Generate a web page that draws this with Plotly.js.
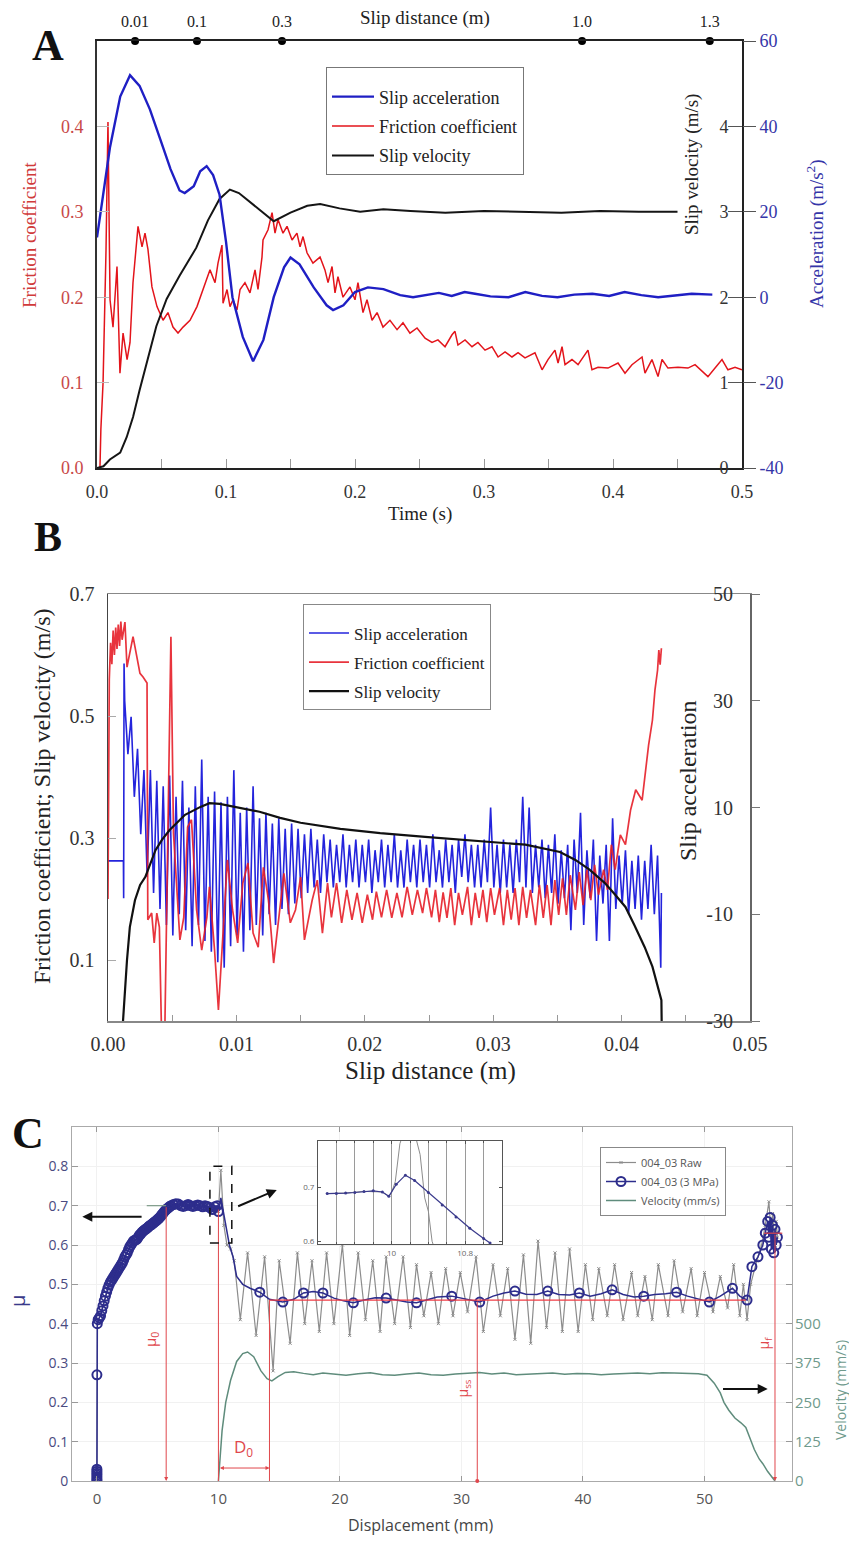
<!DOCTYPE html>
<html><head><meta charset="utf-8">
<script src="https://cdn.plot.ly/plotly-3.0.1.min.js"></script>
<style>html,body{margin:0;padding:0;background:#fff}#chart{width:849px;height:1542px}</style>
</head><body><div id="chart"></div>
<script>
// ---------------- Panel A (time domain) ----------------
const accelA = [[0,14],[0.003,20],[0.01,35],[0.018,47],[0.0256,52],[0.033,49.5],[0.041,44],[0.049,37],[0.057,30],[0.064,25],[0.068,24.4],[0.075,26],[0.08,29.5],[0.085,30.7],[0.09,28.6],[0.095,24],[0.1,13],[0.105,0],[0.113,-9.3],[0.121,-15],[0.129,-10],[0.137,0],[0.145,7],[0.15,9.3],[0.157,7.7],[0.168,2.3],[0.178,-1.9],[0.183,-3],[0.191,-1.9],[0.2,1.2],[0.21,2.3],[0.222,1.9],[0.235,0.5],[0.245,0],[0.254,0.4],[0.265,1.0],[0.275,0.3],[0.285,1.2],[0.293,0.8],[0.305,0.2],[0.319,0],[0.332,1.2],[0.345,0.3],[0.357,0],[0.37,0.6],[0.384,0.8],[0.397,0.3],[0.409,1.2],[0.422,0.5],[0.435,0],[0.448,0.4],[0.461,0.8],[0.477,0.6]];
const velocityA = [[0,0],[0.005,0.02],[0.01,0.1],[0.018,0.18],[0.023,0.36],[0.028,0.6],[0.033,0.91],[0.039,1.27],[0.046,1.66],[0.054,1.98],[0.064,2.25],[0.077,2.58],[0.086,2.9],[0.095,3.15],[0.103,3.26],[0.11,3.22],[0.118,3.12],[0.126,3.02],[0.137,2.89],[0.15,2.99],[0.163,3.07],[0.173,3.09],[0.188,3.04],[0.204,3.0],[0.222,3.03],[0.243,3.01],[0.27,2.99],[0.3,3.01],[0.33,3.0],[0.36,2.99],[0.39,3.01],[0.42,3.0],[0.45,3.0]];
const frictionA = [[0,0],[0.0023,0],[0.003,0.045],[0.0047,0.10],[0.007,0.256],[0.0085,0.405],[0.0101,0.197],[0.0124,0.165],[0.0155,0.236],[0.0178,0.111],[0.0202,0.158],[0.0233,0.127],[0.0256,0.147],[0.0279,0.217],[0.0318,0.283],[0.0349,0.259],[0.0372,0.275],[0.0395,0.256],[0.0426,0.212],[0.0465,0.189],[0.0512,0.173],[0.055,0.182],[0.0589,0.165],[0.0628,0.158],[0.0667,0.165],[0.0721,0.173],[0.0775,0.189],[0.0822,0.209],[0.0876,0.232],[0.0915,0.217],[0.0938,0.240],[0.0969,0.261],[0.0977,0.193],[0.1008,0.209],[0.1031,0.189],[0.1054,0.197],[0.1085,0.185],[0.1109,0.209],[0.1147,0.217],[0.1186,0.205],[0.1225,0.232],[0.1248,0.209],[0.1279,0.247],[0.1287,0.267],[0.1326,0.279],[0.1357,0.299],[0.138,0.275],[0.1403,0.291],[0.1442,0.275],[0.1473,0.283],[0.1512,0.267],[0.155,0.275],[0.1574,0.259],[0.1597,0.271],[0.1628,0.252],[0.1674,0.240],[0.1729,0.247],[0.1767,0.232],[0.1791,0.217],[0.1822,0.236],[0.1845,0.205],[0.1868,0.224],[0.1907,0.200],[0.1961,0.212],[0.2,0.197],[0.2023,0.217],[0.2062,0.182],[0.2093,0.197],[0.2132,0.173],[0.2171,0.182],[0.2217,0.165],[0.2271,0.173],[0.2326,0.162],[0.2372,0.170],[0.2426,0.158],[0.2481,0.164],[0.2543,0.152],[0.2597,0.147],[0.2643,0.150],[0.2698,0.142],[0.2752,0.156],[0.2775,0.160],[0.2798,0.144],[0.2853,0.150],[0.2907,0.142],[0.2953,0.147],[0.3008,0.138],[0.3062,0.142],[0.3109,0.130],[0.3163,0.136],[0.3217,0.130],[0.3264,0.135],[0.3318,0.129],[0.3395,0.135],[0.345,0.115],[0.3496,0.127],[0.355,0.138],[0.3574,0.123],[0.3605,0.142],[0.3628,0.121],[0.3682,0.127],[0.3729,0.121],[0.3806,0.138],[0.3837,0.115],[0.3884,0.118],[0.3961,0.117],[0.4039,0.123],[0.4093,0.111],[0.4147,0.121],[0.4225,0.130],[0.4248,0.111],[0.4302,0.127],[0.4349,0.107],[0.438,0.127],[0.4426,0.117],[0.4504,0.118],[0.4581,0.117],[0.4636,0.121],[0.469,0.113],[0.4736,0.107],[0.4791,0.117],[0.4845,0.127],[0.4891,0.115],[0.4946,0.118],[0.5,0.115]];
const slipDistTime = [0.0295, 0.0775, 0.1434, 0.376, 0.475];
const slipDistLabel = ['0.01', '0.1', '0.3', '1.0', '1.3'];
const timeTicks = [0, 0.1, 0.2, 0.3, 0.4, 0.5];
const A_TIME_RANGE = [0, 0.5], A_MU_RANGE = [0, 0.5], A_VEL_RANGE = [0, 5], A_ACC_RANGE = [-40, 60];
const accTicksA = [-40, -20, 0, 20, 40, 60];

// ---------------- Panel B (slip distance domain) ----------------
const frictionB = [[0,0.20],[0.0001,0.56],[0.0002,0.62],[0.0003,0.585],[0.0004,0.64],[0.0005,0.60],[0.0006,0.645],[0.0007,0.61],[0.0008,0.65],[0.0009,0.615],[0.001,0.655],[0.0011,0.625],[0.00132,0.654],[0.00148,0.58],[0.00195,0.63],[0.00249,0.57],[0.00273,0.564],[0.00304,0.554],[0.0031,0.166],[0.0034,0.177],[0.0036,0.128],[0.0038,0.177],[0.004,0.154],[0.0042,-0.05],[0.0044,-0.05],[0.0046,0.252],[0.0049,0.63],[0.0051,0.308],[0.0054,0.2],[0.0056,0.133],[0.0059,0.17],[0.0062,0.318],[0.0065,0.33],[0.0069,0.182],[0.0073,0.116],[0.0077,0.17],[0.0079,0.22],[0.0083,0.116],[0.0086,0.018],[0.0089,0.128],[0.0093,0.264],[0.0097,0.182],[0.0101,0.128],[0.0105,0.226],[0.0109,0.259],[0.0113,0.144],[0.0117,0.121],[0.0121,0.252],[0.0125,0.198],[0.0129,0.095],[0.0133,0.17],[0.0137,0.242],[0.0142,0.161],[0.0146,0.182],[0.015,0.236],[0.0153,0.133],[0.0159,0.198],[0.0163,0.231],[0.0167,0.144],[0.0171,0.226],[0.0174,0.17],[0.0178,0.226],[0.0182,0.161],[0.0186,0.215],[0.019,0.166],[0.0194,0.21],[0.0198,0.161],[0.0202,0.207],[0.0206,0.166],[0.0209,0.212],[0.0213,0.17],[0.0217,0.215],[0.0221,0.169],[0.0225,0.21],[0.0229,0.17],[0.0233,0.22],[0.0237,0.174],[0.0241,0.215],[0.0245,0.177],[0.0248,0.218],[0.0252,0.17],[0.0255,0.215],[0.0258,0.162],[0.0261,0.211],[0.0264,0.169],[0.0267,0.218],[0.027,0.157],[0.0273,0.21],[0.0276,0.174],[0.028,0.22],[0.0283,0.157],[0.0286,0.21],[0.0289,0.169],[0.0292,0.215],[0.0295,0.162],[0.0298,0.218],[0.0301,0.174],[0.0305,0.218],[0.0308,0.157],[0.0311,0.215],[0.0314,0.166],[0.0317,0.218],[0.032,0.157],[0.0323,0.22],[0.0326,0.169],[0.0329,0.215],[0.0333,0.157],[0.0336,0.223],[0.0339,0.169],[0.0342,0.223],[0.0345,0.157],[0.0348,0.231],[0.0351,0.174],[0.0354,0.234],[0.0357,0.174],[0.036,0.239],[0.0364,0.182],[0.0367,0.244],[0.037,0.19],[0.0373,0.248],[0.0376,0.198],[0.0379,0.256],[0.0382,0.207],[0.0386,0.248],[0.0389,0.215],[0.0392,0.289],[0.0395,0.248],[0.0399,0.305],[0.0403,0.289],[0.0407,0.346],[0.0411,0.379],[0.0416,0.362],[0.0421,0.452],[0.0424,0.493],[0.0426,0.543],[0.0428,0.575],[0.0429,0.608],[0.0430,0.584],[0.0431,0.611]];
const velocityB = [[0.00117,0],[0.00132,0.056],[0.00148,0.1],[0.0017,0.154],[0.0021,0.198],[0.0025,0.223],[0.0029,0.236],[0.0037,0.28],[0.0042,0.297],[0.0048,0.313],[0.006,0.338],[0.0072,0.351],[0.0079,0.357],[0.0087,0.356],[0.0103,0.349],[0.0118,0.343],[0.0134,0.333],[0.015,0.325],[0.0181,0.315],[0.0212,0.308],[0.0247,0.302],[0.0286,0.295],[0.0325,0.289],[0.0352,0.277],[0.0364,0.264],[0.0375,0.248],[0.0387,0.226],[0.0395,0.207],[0.0403,0.187],[0.041,0.157],[0.0418,0.121],[0.0424,0.089],[0.0428,0.056],[0.0431,0.034],[0.04312,0]];
const accelBX = [0,0.0012,0.00122,0.00125,
 0.0013,0.00155,0.0018,0.00205,0.0023,0.00255,0.0028,0.00305,0.0033,0.00355,
 0.0038,0.00405,0.0043,0.00455,0.0048,0.00505,0.0053,0.00555,0.0058,0.00605,
 0.0063,0.00655,0.0068,0.00705,0.0073,0.00755,0.0078,0.00805,0.0083,0.00855,
 0.0088,0.00905,0.0093,0.00955,0.0098,0.01005,0.0103,0.01055,0.0108,0.01105,
 0.0113,0.01155,0.0118,0.01205,0.0123,0.01255,0.0128,0.01305,0.0133,0.01355,
 0.0138,0.01405,0.0143,0.01455,0.0148,0.01505,0.0153,0.01555,0.0158,0.01605,
 0.0163,0.01655,0.0168,0.01705,0.0173,0.01755,0.0178,0.01805,0.0183,0.01855,
 0.0188,0.01905,0.0193,0.01955,0.0198,0.02005,0.0203,0.02055,0.0208,0.02105,
 0.0213,0.02155,0.0218,0.02205,0.0223,0.02255,0.0228,0.02305,0.0233,0.02355,
 0.0238,0.02405,0.0243,0.02455,0.0248,0.02505,0.0253,0.02555,0.0258,0.02605,
 0.0263,0.02655,0.0268,0.02705,0.0273,0.02755,0.0278,0.02805,0.0283,0.02855,
 0.0288,0.02905,0.0293,0.02955,0.0298,0.03005,0.0303,0.03055,0.0308,0.03105,
 0.0313,0.03155,0.0318,0.03205,0.0323,0.03255,0.0328,0.03305,0.0333,0.03355,
 0.0338,0.03405,0.0343,0.03455,0.0348,0.03505,0.0353,0.03555,0.0358,0.03605,
 0.0363,0.03655,0.0368,0.03705,0.0373,0.03755,0.0378,0.03805,0.0383,0.03855,
 0.0388,0.03905,0.0393,0.03955,0.0398,0.04005,0.0403,0.04055,0.0408,0.04105,
 0.0413,0.04155,0.0418,0.04205,0.0423,0.04255,0.0428,0.04305,0.0431];
const accelBY = [0,0,-7,37,
 30,20,27,12,21,5,17,-3,17,-6,
 15,-9,14,-12,16,-14,12,-10,15,-13,
 10,-16,14,-12,19,-15,12,-17,13,-19,
 11,-20,12,-16,17,-14,9,-17,10,-13,
 14,-12,8,-14,9,-10,7,-12,8,-9,
 6,-10,7,-8,6,-7,5,-6,6,-5,
 4,-6,5,-4,4,-5,3,-4,5,-5,
 3,-4,4,-5,3,-4,4,-6,2,-4,
 4,-5,3,-4,5,-5,2,-5,4,-4,
 3,-5,4,-4,3,-5,5,-4,2,-5,
 4,-4,3,-6,4,-3,5,-4,3,-5,
 3,-5,4,-4,10,-5,3,-6,4,-5,
 3,-6,4,-4,12,-5,10,-6,3,-5,
 4,-7,3,-6,5,-8,2,-7,3,-13,
 4,-6,9,-12,2,-7,4,-15,1,-8,
 3,-15,8,-9,1,-8,2,-10,0,-9,
 1,-11,0,-9,3,-10,1,-20,-6];
const distTicksB = [0, 0.01, 0.02, 0.03, 0.04, 0.05];
const accTicksB = [-30, -10, 10, 30, 50];

// ---------------- Panel C (displacement domain) ----------------
const rawC = [[0,0],[0.05,0.40],[0.5,0.445],[1,0.50],[2,0.555],[3,0.61],[4,0.635],[5,0.66],[6,0.697],[7,0.705],[8,0.70],[9,0.698],[9.9,0.695],[10.0,0.685],[10.2,0.79],[10.45,0.65],[10.7,0.60],[11.0,0.59],[11.3,0.56],[11.8,0.41],[12.4,0.58],[13.1,0.37],[13.8,0.57],[14.5,0.28],[15.0,0.56],[15.9,0.35],[16.5,0.58],[17.1,0.40],[17.7,0.56],[18.3,0.38],[18.9,0.58],[19.5,0.40],[20.2,0.60],[20.8,0.37],[21.5,0.58],[22.1,0.41],[22.7,0.56],[23.3,0.38],[23.8,0.57],[24.5,0.40],[25.2,0.57],[25.8,0.39],[26.3,0.55],[26.9,0.42],[27.5,0.53],[28.1,0.40],[28.7,0.54],[29.3,0.42],[29.9,0.53],[30.5,0.43],[31.2,0.57],[31.8,0.38],[32.6,0.55],[33.2,0.42],[33.8,0.54],[34.4,0.36],[35.1,0.575],[35.7,0.35],[36.3,0.61],[37.0,0.39],[37.7,0.58],[38.3,0.38],[38.9,0.59],[39.6,0.38],[40.2,0.55],[40.8,0.41],[41.3,0.54],[42.0,0.42],[42.6,0.55],[43.3,0.41],[44.0,0.53],[44.5,0.42],[45.1,0.52],[45.7,0.41],[46.2,0.55],[47.0,0.42],[47.5,0.56],[48.2,0.43],[48.9,0.54],[49.4,0.42],[50.0,0.53],[50.7,0.43],[51.3,0.52],[51.9,0.44],[52.4,0.55],[52.9,0.42],[53.2,0.50],[53.5,0.41],[53.8,0.50],[54.3,0.56],[54.7,0.60],[55.0,0.65],[55.3,0.71],[55.5,0.62],[55.6,0.68],[55.8,0.60],[55.9,0.66],[56.0,0.62]];
const mpa3C = [[0,0],[0,0.005],[0,0.01],[0,0.015],[0,0.02],[0,0.025],[0,0.03],[0,0.27],[0.03,0.40],[0.1,0.41],[0.2,0.415],[0.3,0.42],[0.4,0.433],[0.5,0.445],[0.6,0.458],[0.7,0.47],[0.8,0.48],[0.9,0.49],[1.0,0.498],[1.1,0.505],[1.2,0.51],[1.3,0.515],[1.4,0.52],[1.5,0.525],[1.6,0.53],[1.7,0.535],[1.8,0.54],[1.9,0.545],[2.0,0.55],[2.1,0.555],[2.2,0.562],[2.3,0.57],[2.4,0.575],[2.5,0.58],[2.6,0.588],[2.7,0.595],[2.8,0.60],[2.9,0.605],[3.0,0.61],[3.1,0.612],[3.2,0.613],[3.3,0.615],[3.4,0.62],[3.5,0.625],[3.6,0.628],[3.7,0.632],[3.8,0.635],[3.9,0.638],[4.0,0.64],[4.1,0.642],[4.2,0.645],[4.3,0.648],[4.4,0.65],[4.5,0.652],[4.6,0.655],[4.7,0.657],[4.8,0.66],[4.9,0.662],[5.0,0.665],[5.1,0.668],[5.2,0.671],[5.3,0.675],[5.4,0.679],[5.5,0.683],[5.6,0.687],[5.7,0.69],[5.8,0.693],[5.9,0.695],[6.0,0.698],[6.1,0.70],[6.3,0.703],[6.5,0.705],[6.7,0.704],[6.9,0.70],[7.1,0.698],[7.3,0.70],[7.5,0.703],[7.7,0.70],[7.9,0.698],[8.1,0.70],[8.3,0.702],[8.5,0.70],[8.7,0.697],[8.9,0.70],[9.1,0.698],[9.3,0.695],[9.5,0.69],[9.7,0.697],[9.9,0.70],[10.0,0.685],[10.2,0.72],[10.5,0.67],[10.9,0.60],[11.2,0.57],[11.5,0.52],[12.0,0.50],[12.6,0.49],[13.4,0.48],[14.2,0.462],[15.3,0.455],[16.2,0.462],[17.0,0.478],[17.8,0.482],[18.6,0.478],[19.5,0.465],[20.3,0.458],[21.1,0.453],[22.0,0.46],[22.9,0.466],[23.8,0.465],[24.6,0.46],[25.5,0.455],[26.3,0.453],[27.1,0.46],[28.0,0.468],[29.2,0.47],[30.3,0.462],[31.5,0.455],[32.6,0.47],[33.5,0.478],[34.4,0.483],[35.3,0.475],[36.2,0.474],[37.1,0.483],[38.0,0.474],[38.9,0.473],[39.7,0.478],[40.6,0.47],[41.5,0.476],[42.4,0.486],[43.3,0.474],[44.2,0.468],[45.0,0.47],[45.9,0.474],[46.8,0.476],[47.7,0.48],[48.6,0.47],[49.5,0.462],[50.4,0.455],[51.3,0.47],[52.3,0.49],[52.9,0.47],[53.5,0.46],[53.9,0.545],[54.4,0.57],[54.8,0.60],[55.0,0.63],[55.2,0.66],[55.3,0.62],[55.4,0.67],[55.5,0.59],[55.6,0.65],[55.7,0.58],[55.8,0.64],[55.9,0.60],[56.0,0.62]];
const mpa3Circles = [13.4,15.3,17.0,18.6,21.1,23.8,26.3,29.2,31.5,34.4,37.1,39.7,42.4,45.0,47.7,50.4,52.3,53.5,53.9,54.4,54.8,55.0,55.2,55.3,55.4,55.5,55.6,55.7,55.8,55.9,56.0];
const velocityC = [[10.0,0],[10.1,60],[10.3,160],[10.6,250],[11.0,320],[11.5,380],[12.0,405],[12.4,410],[12.9,395],[13.5,350],[14.0,325],[14.4,318],[14.9,332],[15.5,345],[16.2,347],[17.0,342],[17.8,338],[18.6,343],[19.5,340],[20.5,336],[21.5,341],[22.5,344],[23.5,338],[24.5,336],[25.5,340],[26.5,343],[27.5,338],[28.5,336],[29.5,340],[30.5,342],[31.5,345],[32.5,340],[33.5,343],[34.5,338],[35.5,340],[36.5,341],[37.5,343],[38.5,339],[39.5,342],[40.5,341],[41.5,338],[42.5,340],[43.5,342],[44.5,343],[45.5,341],[46.5,344],[47.5,343],[48.5,341],[49.5,341],[50.2,336],[50.8,311],[51.3,280],[51.6,250],[52.0,225],[52.5,200],[53.0,185],[53.4,170],[53.8,130],[54.1,100],[54.5,70],[54.8,55],[55.2,30],[55.5,15],[55.8,0]];
const insetMpa3 = [[9.3,0.688],[9.4,0.688],[9.5,0.689],[9.6,0.69],[9.7,0.692],[9.8,0.693],[9.9,0.691],[9.97,0.683],[10.05,0.705],[10.15,0.722],[10.25,0.712],[10.4,0.69],[10.55,0.667],[10.7,0.645],[10.85,0.624],[11.0,0.605],[11.07,0.597]];
const insetRaw = [[9.3,0.688],[9.5,0.689],[9.7,0.692],[9.9,0.691],[9.97,0.683],[10.0,0.69],[10.04,0.71],[10.09,0.78],[10.15,0.81],[10.25,0.80],[10.31,0.76],[10.36,0.68],[10.4,0.655],[10.44,0.60],[10.48,0.58]];
// characteristic values marked in panel C
const mu0 = {d: 5.7, mu: 0.70}, D0 = {from: 10.0, to: 14.2}, muss = {d: 31.3, mu: 0.46, from: 14.2, to: 53.4}, muf = {d: 55.8, mu: 0.63};
const zoomBox = {d0: 9.3, d1: 11.1, mu0: 0.605, mu1: 0.8};

// ---------------- layout helpers ----------------
const W = 849, H = 1542;
const px = x => x / W, py = y => 1 - y / H;
const SERIF = '"Liberation Serif", "Times New Roman", serif';
const SANS = '"Open Sans", "Liberation Sans", sans-serif';
const X = a => a.map(p => p[0]), Y = a => a.map(p => p[1]);

const traces = [];
// A
traces.push({x: X(accelA), y: Y(accelA), xaxis: 'x', yaxis: 'y3', mode: 'lines', name: 'Slip acceleration', line: {color: '#1f1fc4', width: 2.4}, legend: 'legend', legendgroup: 'a1'});
traces.push({x: X(frictionA), y: Y(frictionA), xaxis: 'x', yaxis: 'y', mode: 'lines', name: 'Friction coefficient', line: {color: '#e3141b', width: 1.5}, legend: 'legend', legendgroup: 'a2'});
traces.push({x: X(velocityA), y: Y(velocityA), xaxis: 'x', yaxis: 'y2', mode: 'lines', name: 'Slip velocity', line: {color: '#151515', width: 2}, legend: 'legend', legendgroup: 'a3'});
traces.push({x: slipDistTime, y: slipDistTime.map(() => A_MU_RANGE[1]), xaxis: 'x2', yaxis: 'y', mode: 'markers', marker: {color: '#000', size: 8}, cliponaxis: false, showlegend: false, hoverinfo: 'skip'});
// B
traces.push({x: accelBX, y: accelBY, xaxis: 'x3', yaxis: 'y4', mode: 'lines', name: 'Slip acceleration', line: {color: '#2424dc', width: 1.6}, legend: 'legend2', legendgroup: 'b1'});
traces.push({x: X(frictionB), y: Y(frictionB), xaxis: 'x3', yaxis: 'y5', mode: 'lines', name: 'Friction coefficient', line: {color: '#e61e28', width: 1.7}, opacity: 0.9, legend: 'legend2', legendgroup: 'b2'});
traces.push({x: X(velocityB), y: Y(velocityB), xaxis: 'x3', yaxis: 'y5', mode: 'lines', name: 'Slip velocity', line: {color: '#111', width: 2.2}, legend: 'legend2', legendgroup: 'b3'});
// C
traces.push({x: X(rawC), y: Y(rawC), xaxis: 'x4', yaxis: 'y6', mode: 'lines+markers', name: '004_03 Raw', line: {color: '#8c8c8c', width: 1.2}, marker: {symbol: 'x-thin-open', size: 3, color: '#8c8c8c', line: {width: 1, color: '#8c8c8c'}}, legend: 'legend3', legendgroup: 'c1'});
const m3x = X(mpa3C);
const m3sel = m3x.map((d, i) => (d <= 10.0 || mpa3Circles.includes(d)) ? i : -1).filter(i => i >= 0);
traces.push({x: m3x, y: Y(mpa3C), xaxis: 'x4', yaxis: 'y6', mode: 'lines+markers', name: '004_03 (3 MPa)', line: {color: '#2d2d8c', width: 1.5}, marker: {symbol: 'circle-open', size: 9, color: '#2d2d8c', line: {width: 2, color: '#2d2d8c'}}, selectedpoints: m3sel, selected: {marker: {opacity: 1}}, unselected: {marker: {opacity: 0}}, legend: 'legend3', legendgroup: 'c2'});
traces.push({x: X(velocityC), y: Y(velocityC), xaxis: 'x4', yaxis: 'y7', mode: 'lines', name: 'Velocity (mm/s)', line: {color: '#5f8c7c', width: 1.5}, legend: 'legend3', legendgroup: 'c3'});
// inset
traces.push({x: X(insetRaw), y: Y(insetRaw), xaxis: 'x5', yaxis: 'y8', mode: 'lines', line: {color: '#8c8c8c', width: 1}, showlegend: false});
traces.push({x: X(insetMpa3), y: Y(insetMpa3), xaxis: 'x5', yaxis: 'y8', mode: 'lines+markers', line: {color: '#3a3a8c', width: 1.2}, marker: {size: 3, color: '#3a3a8c'}, showlegend: false});

const noGrid = {showgrid: false, zeroline: false, fixedrange: true};
const layout = {
  width: W, height: H, margin: {l: 0, r: 0, t: 0, b: 0},
  paper_bgcolor: '#fff', plot_bgcolor: '#fff', showlegend: true,
  // ---- A ----
  xaxis: Object.assign({}, noGrid, {domain: [px(97), px(742)], anchor: 'y', range: A_TIME_RANGE, tickmode: 'array', tickvals: timeTicks, ticktext: timeTicks.map(v => v.toFixed(1)),
    ticks: 'inside', ticklen: 9, tickcolor: '#999', minor: {ticks: 'inside', tickmode: 'linear', tick0: 0, dtick: 0.05, ticklen: 9, tickcolor: '#999'},
    showline: true, linecolor: '#222', linewidth: 2, ticklabelstandoff: 6, ticklabeloverflow: 'allow', tickfont: {family: SERIF, size: 18, color: '#333'}}),
  xaxis2: Object.assign({}, noGrid, {overlaying: 'x', side: 'top', anchor: 'y', range: A_TIME_RANGE, tickmode: 'array', tickvals: slipDistTime, ticktext: slipDistLabel,
    ticks: '', showline: true, linecolor: '#222', linewidth: 2, ticklabelstandoff: 6, tickfont: {family: SERIF, size: 16, color: '#222'}}),
  yaxis: Object.assign({}, noGrid, {domain: [py(468), py(41)], anchor: 'x', range: A_MU_RANGE, tickvals: [0, 0.1, 0.2, 0.3, 0.4], tickformat: '.1f',
    ticks: 'inside', ticklen: 12, tickcolor: '#bbb', showline: true, linecolor: '#333', linewidth: 2, ticklabelstandoff: 8,
    tickfont: {family: SERIF, size: 18, color: '#c84848'}}),
  yaxis2: Object.assign({}, noGrid, {overlaying: 'y', side: 'right', anchor: 'x', range: A_VEL_RANGE, tickvals: [0, 1, 2, 3, 4],
    ticks: 'inside', ticklen: 14, tickcolor: '#555', ticklabelposition: 'inside', ticklabeloverflow: 'allow', showline: true, linecolor: '#222', linewidth: 2,
    tickfont: {family: SERIF, size: 18, color: '#333'}}),
  yaxis3: Object.assign({}, noGrid, {overlaying: 'y', side: 'right', anchor: 'x', range: A_ACC_RANGE, tickmode: 'array', tickvals: accTicksA, ticktext: accTicksA.map(String),
    ticks: 'outside', ticklen: 13, tickcolor: '#555', showline: false, ticklabeloverflow: 'allow', tickfont: {family: SERIF, size: 18, color: '#3535a8'}}),
  // ---- B ----
  xaxis3: Object.assign({}, noGrid, {domain: [px(108), px(750)], anchor: 'y4', range: [0, 0.05], tickmode: 'array', tickvals: distTicksB, ticktext: distTicksB.map(v => v.toFixed(2)),
    ticks: 'inside', ticklen: 6, tickcolor: '#999', minor: {ticks: 'inside', tickmode: 'linear', tick0: 0, dtick: 0.005, ticklen: 6, tickcolor: '#999'},
    showline: true, linecolor: '#888', linewidth: 1.5, mirror: true, ticklabelstandoff: 4, ticklabeloverflow: 'allow', tickfont: {family: SERIF, size: 20, color: '#333'}}),
  yaxis4: Object.assign({}, noGrid, {domain: [py(1021), py(594)], anchor: 'x3', side: 'right', range: [-30, 50], tickmode: 'array', tickvals: accTicksB, ticktext: accTicksB.map(String),
    ticks: 'outside', ticklen: 8, tickcolor: '#777', ticklabelposition: 'inside', ticklabelstandoff: 18, ticklabeloverflow: 'allow', showline: true, linecolor: '#666', linewidth: 1.5,
    tickfont: {family: SERIF, size: 20, color: '#333'}}),
  yaxis5: Object.assign({}, noGrid, {overlaying: 'y4', side: 'left', anchor: 'x3', range: [0, 0.7], tickvals: [0.1, 0.3, 0.5, 0.7], tickformat: '.1f',
    ticks: 'inside', ticklen: 8, tickcolor: '#aaa', showline: true, linecolor: '#444', linewidth: 1.5, ticklabelstandoff: 8, ticklabeloverflow: 'allow',
    tickfont: {family: SERIF, size: 20, color: '#333'}}),
  // ---- C ----
  xaxis4: {domain: [px(72), px(792)], anchor: 'y6', range: [-2.05, 57.2], tickvals: [0, 10, 20, 30, 40, 50], ticks: 'inside', ticklen: 5, tickcolor: '#999',
    mirror: 'ticks', showline: true, linecolor: '#aaa', linewidth: 1, showgrid: true, gridcolor: '#f1f1f1', zeroline: false, fixedrange: true,
    ticklabelstandoff: 4, tickfont: {family: SANS, size: 15, color: '#555'}},
  yaxis6: {domain: [py(1481), py(1127)], anchor: 'x4', range: [0, 0.9], tickvals: [0, 0.1, 0.2, 0.3, 0.4, 0.5, 0.6, 0.7, 0.8],
    ticktext: ['0', '0.1', '0.2', '0.3', '0.4', '0.5', '0.6', '0.7', '0.8'], ticks: 'inside', ticklen: 6, tickcolor: '#999', mirror: 'ticks',
    showline: true, linecolor: '#aaa', linewidth: 1, showgrid: true, gridcolor: '#f1f1f1', zeroline: false, fixedrange: true,
    tickfont: {family: SANS, size: 14, color: '#4a4a80'}},
  yaxis7: Object.assign({}, noGrid, {overlaying: 'y6', side: 'right', anchor: 'x4', range: [0, 1125], tickvals: [0, 125, 250, 375, 500],
    ticks: '', showline: false, ticklabelstandoff: 2, tickfont: {family: SANS, size: 15, color: '#6f9a8c'}}),
  // ---- inset ----
  xaxis5: {domain: [px(318), px(502)], anchor: 'y8', range: [9.2, 11.2], tickvals: [10, 10.8], ticktext: ['10', '10.8'], ticks: 'inside', ticklen: 3,
    tickcolor: '#555', mirror: 'allticks', showline: true, linecolor: '#555', linewidth: 1, showgrid: true, gridcolor: '#9a9a9a', zeroline: false, fixedrange: true,
    minor: {tickmode: 'linear', tick0: 9.2, dtick: 0.2, showgrid: true, gridcolor: '#9a9a9a', ticks: 'inside', ticklen: 2},
    ticklabelstandoff: 1, tickfont: {family: SANS, size: 8, color: '#666'}},
  yaxis8: {domain: [py(1244), py(1141)], anchor: 'x5', range: [0.595, 0.785], tickvals: [0.6, 0.7], ticks: 'inside', ticklen: 3, tickcolor: '#555',
    mirror: 'allticks', showline: true, linecolor: '#555', linewidth: 1, showgrid: false, zeroline: false, fixedrange: true,
    ticklabelstandoff: 1, tickfont: {family: SANS, size: 8, color: '#666'}},
  // ---- legends ----
  legend: {x: px(326), y: py(67), xanchor: 'left', yanchor: 'top', bgcolor: '#fff', bordercolor: '#777', borderwidth: 1,
    font: {family: SERIF, size: 18, color: '#222'}, tracegroupgap: 3, traceorder: 'grouped', itemwidth: 42,
    title: {text: ' ', font: {size: 8}}},
  legend2: {x: px(303), y: py(604), xanchor: 'left', yanchor: 'top', bgcolor: '#fff', bordercolor: '#888', borderwidth: 1,
    font: {family: SERIF, size: 17, color: '#222'}, tracegroupgap: 4, traceorder: 'grouped', itemwidth: 40,
    title: {text: ' ', font: {size: 8}}},
  legend3: {x: px(600), y: py(1147), xanchor: 'left', yanchor: 'top', bgcolor: '#fff', bordercolor: '#888', borderwidth: 1,
    font: {family: SANS, size: 11, color: '#555'}, tracegroupgap: 0, traceorder: 'grouped'},
  shapes: [], annotations: []
};

const lab = (text, x, y, size, color, extra) => Object.assign({text: text, x: px(x), y: py(y), xref: 'paper', yref: 'paper', showarrow: false,
  xanchor: 'center', yanchor: 'middle', font: {family: SERIF, size: size, color: color}}, extra || {});
const A = layout.annotations, S = layout.shapes;
A.push(lab('<b>A</b>', 48, 45, 44, '#111'));
A.push(lab('<b>B</b>', 48, 537, 42, '#111'));
A.push(lab('<b>C</b>', 28, 1133, 44, '#111'));
A.push(lab('Slip distance (m)', 425, 18, 19, '#222'));
A.push(lab('Time (s)', 420, 514, 19, '#222'));
A.push(lab('Friction coefficient', 29, 235, 19, '#d03a3a', {textangle: -90}));
A.push(lab('Slip velocity (m/s)', 692, 165, 19, '#222', {textangle: -90}));
A.push(lab('Acceleration (m/s<sup>2</sup>)', 815, 234, 19, '#3535a8', {textangle: -90}));
A.push(lab('Friction coefficient; Slip velocity (m/s)', 42, 797, 24, '#222', {textangle: -90}));
A.push(lab('Slip acceleration', 688, 781, 24, '#222', {textangle: -90}));
A.push(lab('Slip distance (m)', 430, 1071, 25, '#222'));
A.push(lab('μ', 17, 1301, 20, '#3a3a8a', {textangle: -90, font: {family: SANS, size: 20, color: '#3a3a8a'}}));
A.push(lab('Displacement (mm)', 420, 1525, 16, '#444', {font: {family: SANS, size: 16, color: '#444'}}));
A.push(lab('Velocity (mm/s)', 840, 1390, 14, '#6f9a8c', {textangle: -90, font: {family: SANS, size: 14, color: '#6f9a8c'}}));

const RED = '#e0474c';
const dref = {xref: 'x4', yref: 'y6'};
const arrow = (hx, hy, tx, ty, color, w, extra) => Object.assign({x: hx, y: hy, ax: tx, ay: ty, axref: 'x4', ayref: 'y6', text: '', showarrow: true,
  arrowhead: 2, arrowsize: 1, arrowwidth: w, arrowcolor: color}, dref, extra || {});
const vline = (d, m0, m1, color) => Object.assign({type: 'line', x0: d, x1: d, y0: m0, y1: m1, line: {color: color, width: 1}}, dref);
const hline = (d0, d1, m, color) => Object.assign({type: 'line', x0: d0, x1: d1, y0: m, y1: m, line: {color: color, width: 1.2}}, dref);
// characteristic lines
S.push(hline(4.1, mu0.d, mu0.mu, '#7d9a88'));
A.push(arrow(mu0.d, 0, mu0.d, mu0.mu, RED, 1, {arrowsize: 0.8}));
S.push(vline(D0.from, 0, 0.69, RED));
S.push(vline(D0.to, 0, muss.mu, RED));
S.push(hline(muss.from, muss.to, muss.mu, '#f03c44'));
A.push(arrow(muss.d, 0, muss.d, muss.mu, RED, 1, {arrowhead: 6, arrowsize: 1}));
A.push(arrow(muf.d, 0, muf.d, muf.mu, RED, 1, {arrowhead: 2, arrowsize: 0.8}));
S.push(hline(54.9, 56.4, muf.mu, RED));
A.push(arrow(D0.to, 0.033, D0.from, 0.033, RED, 1, {arrowside: 'end+start', arrowsize: 0.8}));
A.push(Object.assign({x: (D0.from + D0.to) / 2, y: 0.085, text: 'D<sub>0</sub>', showarrow: false, font: {family: SANS, size: 17, color: RED}}, dref));
A.push(Object.assign({x: 4.5, y: 0.36, text: 'μ<sub>0</sub>', textangle: -90, showarrow: false, font: {family: SANS, size: 15, color: RED}}, dref));
A.push(Object.assign({x: 30.2, y: 0.235, text: 'μ<sub>ss</sub>', textangle: -90, showarrow: false, font: {family: SANS, size: 14, color: RED}}, dref));
A.push(Object.assign({x: 54.9, y: 0.35, text: 'μ<sub>f</sub>', textangle: -90, showarrow: false, font: {family: SANS, size: 14, color: RED}}, dref));
// black arrows and dashed box
A.push(arrow(-1.2, 0.672, 3.8, 0.672, '#111', 2, {arrowsize: 1}));
A.push(arrow(14.8, 0.74, 11.5, 0.697, '#111', 2, {arrowsize: 1}));
A.push(arrow(55.2, 0.234, 51.4, 0.234, '#111', 2, {arrowsize: 1}));
S.push(Object.assign({type: 'rect', x0: zoomBox.d0, x1: zoomBox.d1, y0: zoomBox.mu0, y1: zoomBox.mu1, line: {color: '#111', width: 1.5, dash: 'dash'}}, dref));

Plotly.newPlot('chart', traces, layout, {displayModeBar: false, staticPlot: true});
</script></body></html>
